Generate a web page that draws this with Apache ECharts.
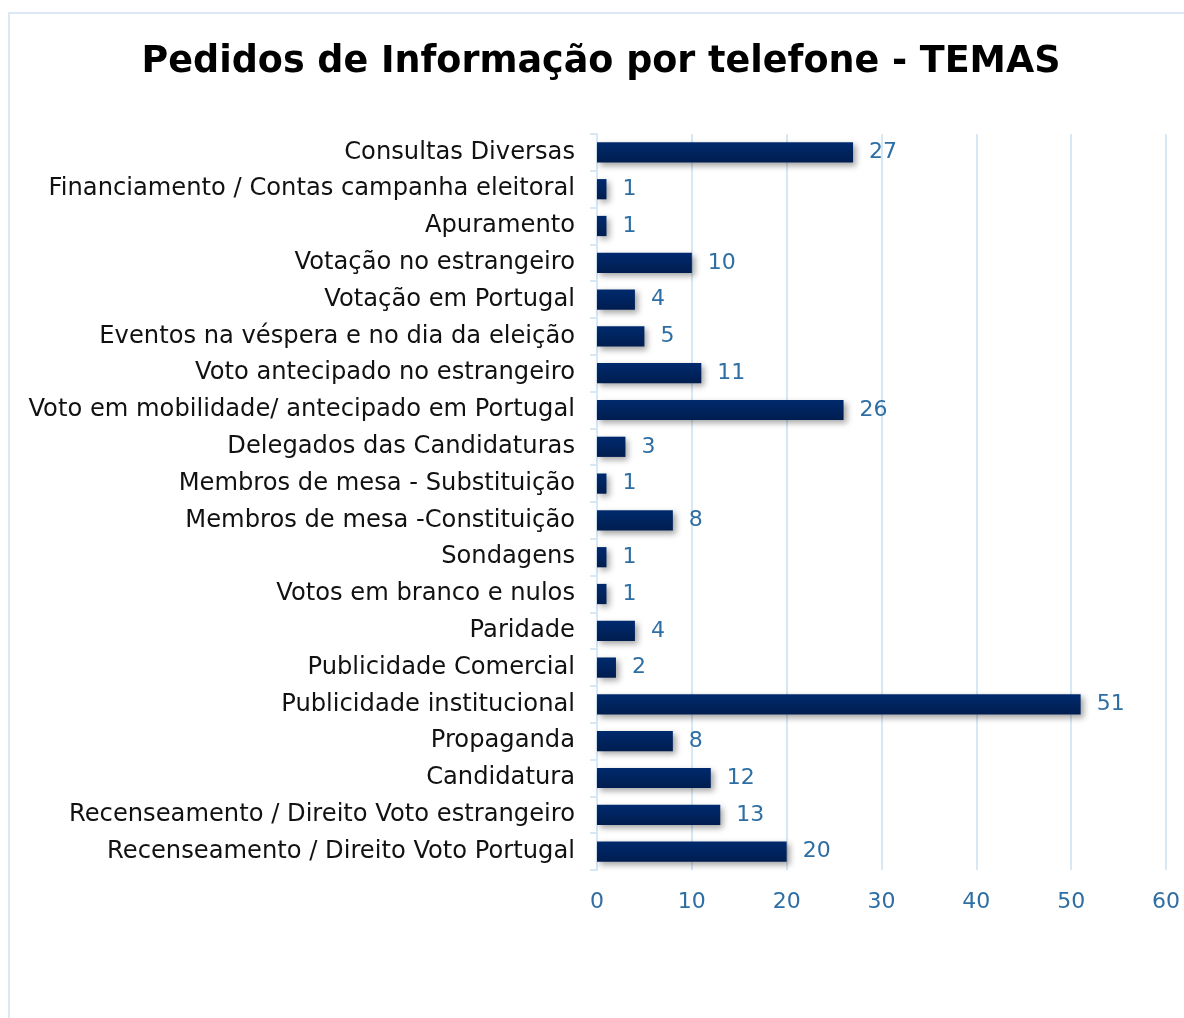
<!DOCTYPE html>
<html><head><meta charset="utf-8">
<script src="https://cdn.jsdelivr.net/npm/echarts@6/dist/echarts.min.js"></script>
<style>html,body{margin:0;padding:0;background:#fff}#frame{position:absolute;left:8px;top:12px;right:-2px;bottom:-2px;border:2px solid #dbe9f6;box-sizing:border-box}#c{position:absolute;left:0;top:0;width:1184px;height:1018px}</style>
</head><body><div id="frame"></div><div id="c"></div>
<script>
var titleText = 'Pedidos de Informação por telefone - TEMAS';
var categories = ['Consultas Diversas','Financiamento / Contas campanha eleitoral','Apuramento','Votação no estrangeiro','Votação em Portugal','Eventos na véspera e no dia da eleição','Voto antecipado no estrangeiro','Voto em mobilidade/ antecipado em Portugal','Delegados das Candidaturas','Membros de mesa - Substituição','Membros de mesa -Constituição','Sondagens','Votos em branco e nulos','Paridade','Publicidade Comercial','Publicidade institucional','Propaganda','Candidatura','Recenseamento / Direito Voto estrangeiro','Recenseamento / Direito Voto Portugal'];
var values = [27,1,1,10,4,5,11,26,3,1,8,1,1,4,2,51,8,12,13,20];
var xTicks = {min:0, max:60, interval:10};

var chart = echarts.init(document.getElementById('c'), null, {renderer:'canvas'});
var font = 'DejaVu Sans';
chart.setOption({
  animation:false,
  backgroundColor:'transparent',
  title:{text:titleText,left:596,textAlign:'center',top:39,textStyle:{fontFamily:font,fontWeight:'bold',fontSize:36.5,color:'#000'}},
  grid:{left:597,right:18,top:134,bottom:148,containLabel:false},
  xAxis:{type:'value',min:xTicks.min,max:xTicks.max,interval:xTicks.interval,
    axisLine:{show:false},axisTick:{show:false},
    splitLine:{show:true,lineStyle:{color:'#d6e7f6',width:2}},
    axisLabel:{color:'#2e6ea3',fontFamily:font,fontSize:22,margin:21}},
  yAxis:{type:'category',data:categories,inverse:true,
    axisLine:{show:true,lineStyle:{color:'#d6e7f6',width:2}},
    axisTick:{show:true,length:7,lineStyle:{color:'#d6e7f6',width:2}},
    axisLabel:{color:'#111',fontFamily:font,fontSize:24.2,margin:22}},
  series:[{type:'bar',data:values,barCategoryGap:'45%',
    itemStyle:{color:new echarts.graphic.LinearGradient(0,0,0,1,[{offset:0,color:'#002a6e'},{offset:1,color:'#001d4f'}]),
      shadowColor:'rgba(0,0,0,0.35)',shadowBlur:6,shadowOffsetX:3,shadowOffsetY:3},
    label:{show:true,position:'right',distance:16,color:'#2e6ea3',fontFamily:font,fontSize:22}}]
});
</script></body></html>
